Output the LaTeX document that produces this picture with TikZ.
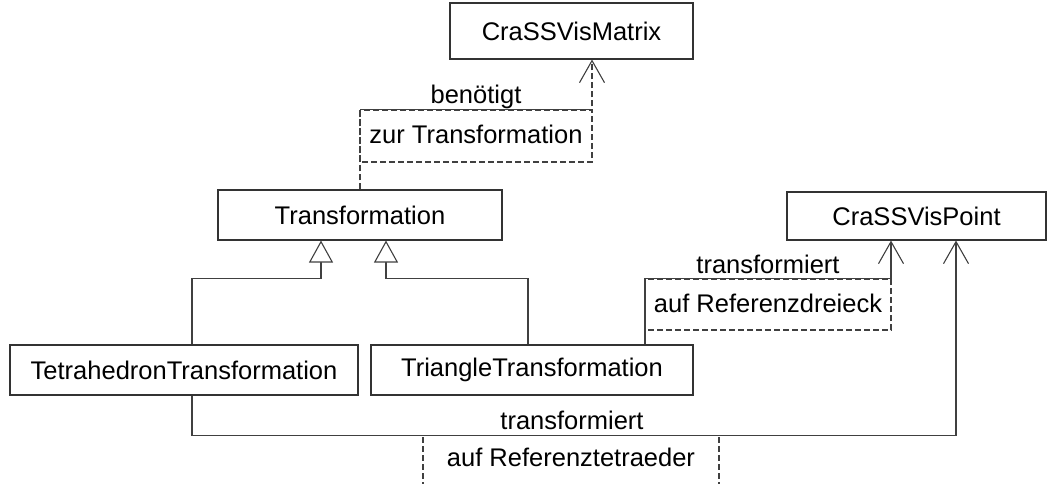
\documentclass[tikz,border=0pt]{standalone}
\usepackage{fontspec}
\setmainfont{Liberation Sans}
\usetikzlibrary{arrows.meta}
\begin{document}
\begin{tikzpicture}[x=1pt,y=-1pt,
  every node/.style={font=\fontsize{25.5}{28}\selectfont, text=black},
  cls/.style={draw=black!80, line width=1.1pt, fill=white, minimum width=#1, minimum height=50pt, inner sep=0pt},
  conn/.style={draw=black!75, line width=1.1pt},
  dep/.style={conn, dash pattern=on 6pt off 3pt},
  labelbox/.style={draw=black!75, line width=1.1pt, dash pattern=on 6pt off 3pt},
  nav/.style={-{Straight Barb[length=22pt,width=25pt,line width=1.1pt]}},
  gen/.style={-{Triangle[open,length=22pt,width=24pt,line width=1.1pt,fill=white]}},
  lbl/.style={inner sep=0pt, anchor=base}]
\useasboundingbox (0,0) rectangle (1049,484);
\clip (0,0) rectangle (1049,484);

% classes
\node[cls=243pt, minimum height=56pt] (matrix) at (571.5,31) {CraSSVisMatrix};
\node[cls=284pt] (trans) at (360,215) {Transformation};
\node[cls=259pt, minimum height=48pt] (point) at (916.5,216) {CraSSVisPoint};
\node[cls=348pt] (tetra) at (184,370) {TetrahedronTransformation};
\node[cls=322pt] (tri) at (532,370) {TriangleTransformation};

% label frames
\draw[labelbox] (360,110) rectangle (592,162);
\draw[labelbox] (645,279) rectangle (891,330);
\draw[labelbox] (423,437) -- (423,495) (719,437) -- (719,495);

% dependency
\draw[dep, nav] (trans.north) -- ++(0,-80) -| ([xshift=20.5pt]matrix.south);

% generalizations
\draw[conn, gen] ([xshift=8pt]tetra.north) -- ++(0,-66) -| ([xshift=-39pt]trans.south);
\draw[conn, gen] ([xshift=-4pt]tri.north) -- ++(0,-66) -| ([xshift=26pt]trans.south);

% associations
\draw[conn, nav] ([xshift=113pt]tri.north) -- ++(0,-66) -| ([xshift=-25.5pt]point.south);
\draw[conn, nav] ([xshift=8pt]tetra.south) -- ++(0,40) -| ([xshift=39.5pt]point.south);

% association labels
\node[lbl] (l1) at (476,104) {benötigt};
\node[lbl] (l2) at (476,143) {zur Transformation};
\node[lbl] (l3) at (768,273) {transformiert};
\node[lbl] (l4) at (768,312) {auf Referenzdreieck};
\node[lbl] (l5) at (572,429) {transformiert};
\node[lbl] (l6) at (571,466) {auf Referenztetraeder};
\end{tikzpicture}
\end{document}
